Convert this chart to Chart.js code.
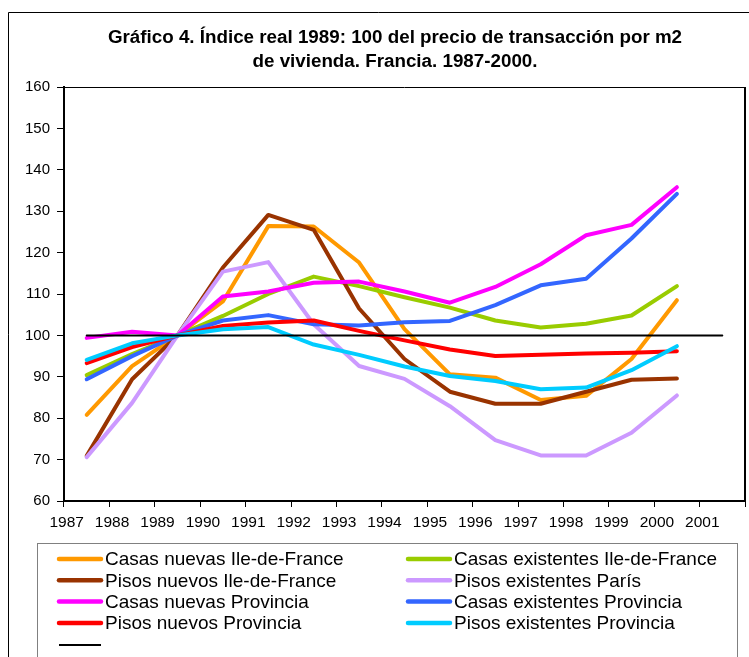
<!DOCTYPE html>
<html>
<head>
<meta charset="utf-8">
<script src="https://cdn.jsdelivr.net/npm/chart.js@4.4.0/dist/chart.umd.min.js"></script>
<style>
  html, body { margin: 0; padding: 0; background: #fff; }
</style>
</head>
<body>
<canvas id="chart" width="749" height="657"></canvas>
<script>
const years = ["1987", "1988", "1989", "1990", "1991", "1992", "1993", "1994",
  "1995", "1996", "1997", "1998", "1999", "2000", "2001"];

const casasNuevasIdf   = [80.8, 92.6, 100, 108.2, 126.4, 126.3, 117.6, 101.5, 90.6, 89.8, 84.4, 85.4, 94.3, 108.5];
const casasExistIdf    = [90.4, 95.5, 100, 104.7, 110.0, 114.2, 111.9, 109.2, 106.7, 103.6, 101.9, 102.8, 104.8, 111.9];
const pisosNuevosIdf   = [70.9, 89.4, 100, 116.4, 129.1, 125.5, 106.5, 94.3, 86.4, 83.5, 83.5, 86.4, 89.3, 89.6];
const pisosExistParis  = [70.6, 83.7, 100, 115.4, 117.7, 102.7, 92.6, 89.5, 82.9, 74.7, 71.0, 71.0, 76.5, 85.5];
const casasNuevasProv  = [99.4, 100.9, 100, 109.4, 110.6, 112.7, 113.0, 110.6, 107.9, 111.7, 117.2, 124.2, 126.7, 135.8];
const casasExistProv   = [89.4, 95.0, 100, 103.6, 104.9, 102.7, 102.4, 103.2, 103.5, 107.3, 112.1, 113.7, 123.4, 134.2];
const pisosNuevosProv  = [93.3, 97.2, 100, 102.3, 103.1, 103.6, 101.1, 98.8, 96.6, 95.0, 95.3, 95.6, 95.8, 96.2];
const pisosExistProv   = [94.1, 98.1, 100, 101.5, 102.0, 97.8, 95.3, 92.5, 90.2, 89.0, 87.0, 87.4, 91.6, 97.4];
const base100          = years.map(() => 100);

const titleLines = [
  "Gráfico 4. Índice real 1989: 100 del precio de transacción por m2",
  "de vivienda. Francia. 1987-2000."
];

const FONT = "'Liberation Sans', Arial, sans-serif";

const series = [
  { label: "Casas nuevas Ile-de-France", data: casasNuevasIdf, color: "#FF9900", width: 4 },
  { label: "Casas existentes Ile-de-France", data: casasExistIdf, color: "#99CC00", width: 4 },
  { label: "Pisos nuevos Ile-de-France", data: pisosNuevosIdf, color: "#993300", width: 4 },
  { label: "Pisos existentes París", data: pisosExistParis, color: "#CC99FF", width: 4 },
  { label: "Casas nuevas Provincia", data: casasNuevasProv, color: "#FF00FF", width: 4 },
  { label: "Casas existentes Provincia", data: casasExistProv, color: "#3366FF", width: 4 },
  { label: "Pisos nuevos Provincia", data: pisosNuevosProv, color: "#FF0000", width: 4 },
  { label: "Pisos existentes Provincia", data: pisosExistProv, color: "#00CCFF", width: 4 },
  { label: "", data: base100, color: "#000000", width: 2 }
];

// frame, title, plot border and the two-column legend
const decor = {
  id: "decor",
  beforeDraw(chart) {
    const ctx = chart.ctx;
    ctx.save();
    ctx.fillStyle = "#fff";
    ctx.fillRect(0, 0, chart.width, chart.height);
    ctx.strokeStyle = "#000";
    ctx.lineWidth = 1;
    ctx.beginPath();
    ctx.moveTo(8.5, chart.height);
    ctx.lineTo(8.5, 12.5);
    ctx.lineTo(chart.width, 12.5);
    ctx.stroke();

    ctx.fillStyle = "#000";
    ctx.font = "bold 18.8px " + FONT;
    ctx.textAlign = "center";
    ctx.textBaseline = "middle";
    titleLines.forEach((t, i) => ctx.fillText(t, 395, 38 + i * 24));
    ctx.restore();
  },
  afterDraw(chart) {
    const ctx = chart.ctx;
    const a = chart.chartArea;
    ctx.save();
    ctx.strokeStyle = "#000";
    ctx.lineWidth = 1;
    ctx.beginPath();
    ctx.moveTo(a.left, a.top + 0.5);
    ctx.lineTo(a.right, a.top + 0.5);
    ctx.stroke();
    ctx.lineWidth = 2;
    ctx.beginPath();
    ctx.moveTo(a.right, a.top);
    ctx.lineTo(a.right, a.bottom);
    ctx.stroke();

    // legend box
    ctx.strokeStyle = "#808080";
    ctx.lineWidth = 1;
    ctx.strokeRect(37.5, 543.5, 700, 130);

    const colX = [57, 406];
    ctx.font = "19px " + FONT;
    ctx.textBaseline = "middle";
    ctx.fillStyle = "#000";
    chart.data.datasets.forEach((ds, i) => {
      const col = i % 2;
      const row = Math.floor(i / 2);
      const x = colX[col];
      const y = ds.label ? 559 + row * 21.3 : 645;
      ctx.strokeStyle = ds.borderColor;
      ctx.lineWidth = ds.label ? 4.5 : 2;
      ctx.lineCap = ds.label ? "round" : "butt";
      ctx.beginPath();
      ctx.moveTo(x + 2, y);
      ctx.lineTo(x + 44, y);
      ctx.stroke();
      if (ds.label) ctx.fillText(ds.label, x + 48, y + 1);
    });
    ctx.restore();
  }
};

new Chart(document.getElementById("chart"), {
  type: "line",
  data: {
    labels: years,
    datasets: series.map((s, i) => ({
      label: s.label,
      data: s.data,
      borderColor: s.color,
      backgroundColor: s.color,
      borderWidth: s.width,
      borderCapStyle: "round",
      borderJoinStyle: "round",
      pointRadius: 0,
      tension: 0,
      order: series.length - i
    }))
  },
  options: {
    animation: false,
    responsive: false,
    devicePixelRatio: 1,
    layout: { padding: { left: 22, right: 4, top: 87, bottom: 116 } },
    scales: {
      x: {
        offset: true,
        ticks: {
          color: "#000",
          font: { family: FONT, size: 15.5 },
          padding: 6,
          labelOffset: -20,
          maxRotation: 0,
          autoSkip: false
        },
        grid: { offset: true, drawOnChartArea: false, tickLength: 6, color: "#000" },
        border: { color: "#000", width: 2 },
        afterFit: (s) => { s.height = 40; }
      },
      y: {
        min: 60,
        max: 160,
        ticks: {
          stepSize: 10,
          color: "#000",
          font: { family: FONT, size: 15 },
          padding: 7
        },
        grid: { drawOnChartArea: false, tickLength: 7, color: "#000" },
        border: { color: "#000", width: 2 },
        afterFit: (s) => { s.width = 42; }
      }
    },
    plugins: {
      legend: { display: false },
      tooltip: { enabled: false },
      title: { display: false }
    }
  },
  plugins: [decor]
});
</script>
</body>
</html>
